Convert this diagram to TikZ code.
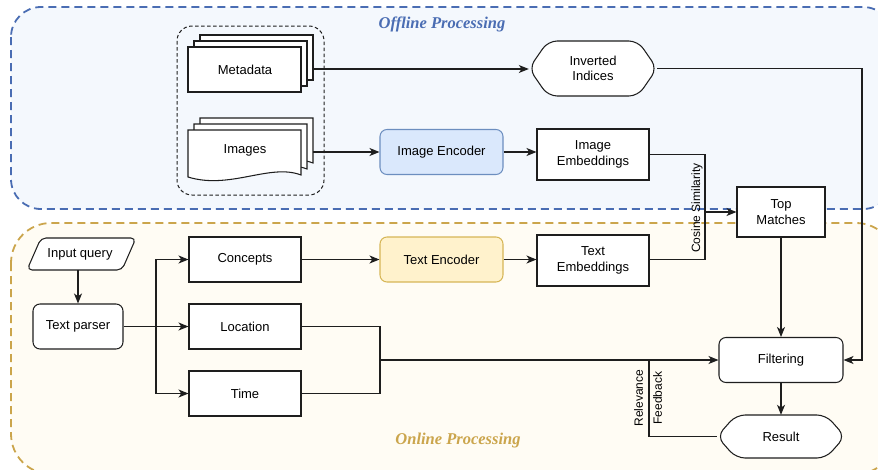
\documentclass[tikz,border=0pt]{standalone}
\usepackage{fontspec}
\setmainfont{Liberation Sans}
\newfontfamily\titlefont{Liberation Serif}
\usetikzlibrary{arrows.meta,calc}

\definecolor{offline}{HTML}{4A6DB3}
\definecolor{offlinefill}{HTML}{F4F8FD}
\definecolor{online}{HTML}{CBA54C}
\definecolor{onlinefill}{HTML}{FFFCF4}
\definecolor{encbluefill}{HTML}{DAE8FC}
\definecolor{encblueline}{HTML}{6C8EBF}
\definecolor{encgoldfill}{HTML}{FFF2CC}
\definecolor{encgoldline}{HTML}{D6B656}
\definecolor{ink}{HTML}{1E1E1E}

\begin{document}
\begin{tikzpicture}[x=1pt,y=-1pt,
  base/.style={font=\fontsize{13}{15.5}\selectfont, align=center, inner sep=0pt},
  plain/.style={base, draw=ink, line width=1.05pt, fill=white, rectangle,
                minimum width=112pt, minimum height=45pt},
  soft/.style={plain, rounded corners=7pt},
  conn/.style={line width=1.05pt, draw=ink},
  arr/.style={conn, -{Stealth[length=10pt,width=8pt,inset=2.8pt]}},
  region/.style={line width=1.8pt, dash pattern=on 8pt off 5pt},
  title/.style={font=\titlefont\bfseries\itshape\fontsize{16.5}{18}\selectfont, inner sep=0pt},
  hexa/.style={conn, fill=white, rounded corners=9pt},
]
\useasboundingbox (0,0) rectangle (878,469);
\clip (0,0) rectangle (878,469);

% processing regions
\draw[region, draw=offline, fill=offlinefill, rounded corners=30pt] (11,7) rectangle (893,209);
\draw[region, draw=online, fill=onlinefill, rounded corners=40pt] (11,223) rectangle (896,474);
\node[title, text=offline] (offtitle) at (442,24) {Offline Processing};
\node[title, text=online] (ontitle) at (458,441) {Online Processing};

% data sources group
\draw[conn, line width=1pt, dash pattern=on 3.5pt off 2.5pt, rounded corners=15pt] (177,26) rectangle (324,195);
\foreach \d in {12,6,0}
  \draw[conn, fill=white] (188+\d,47-\d) rectangle (301+\d,92-\d);
\foreach \d in {12,6,0}
  \draw[conn, fill=white] (188+\d,130-\d) -- (301+\d,130-\d) -- (301+\d,175-\d)
    .. controls (270+\d,163-\d) and (230+\d,190-\d) .. (188+\d,177-\d) -- cycle;
\node[base, minimum width=112pt, minimum height=45pt] (meta) at (245,69.5) {Metadata};
\node[base, minimum width=112pt, minimum height=45pt] (images) at (245,150) {Images};
\coordinate (metaout) at (313,69);
\coordinate (imgout) at (313,152);

% hexagonal stores
\draw[hexa] (529,68.5) -- (548,41) -- (638,41) -- (657,68.5) -- (638,96) -- (548,96) -- cycle;
\node[base, minimum width=128pt, minimum height=55pt] (inv) at (593,68.5) {Inverted\\Indices};
\draw[hexa] (717,436.5) -- (736,415) -- (826,415) -- (845,436.5) -- (826,458) -- (736,458) -- cycle;
\node[base, minimum width=128pt, minimum height=43pt] (result) at (781,436.5) {Result};

% input query
\draw[conn, fill=white, rounded corners=5pt] (41,238) -- (136,238) -- (122,270) -- (27,270) -- cycle;
\node[base, minimum width=100pt, minimum height=32pt] (query) at (80,254) {Input query};

% processing boxes
\node[soft, fill=encbluefill, draw=encblueline, minimum width=123pt] (imgenc) at (441.5,152) {Image Encoder};
\node[plain, minimum height=51pt] (imgemb) at (593,154.5) {Image\\Embeddings};
\node[plain, minimum width=88pt, minimum height=50pt] (top) at (781,212) {Top\\Matches};
\node[soft, minimum width=90pt] (parser) at (78,326.5) {Text parser};
\node[plain] (concepts) at (245,259.5) {Concepts};
\node[soft, fill=encgoldfill, draw=encgoldline, minimum width=123pt] (txtenc) at (441.5,259.5) {Text Encoder};
\node[plain, minimum height=51pt] (txtemb) at (593,260.5) {Text\\Embeddings};
\node[plain] (location) at (245,326.5) {Location};
\node[plain] (time) at (245,393.5) {Time};
\node[soft, minimum width=124pt, minimum height=45pt] (filter) at (781,360) {Filtering};

% offline connectors
\draw[arr] (metaout) -- (inv.west |- metaout);
\draw[arr] (imgout) -- (imgenc.west |- imgout);
\draw[arr] (imgenc.east) -- (imgemb.west |- imgenc.east);
\coordinate (invturn) at (862,68.5);
\draw[arr] (inv.east) -- (invturn) |- (filter.east);

% similarity join
\coordinate (cosj) at (705,212);
\draw[conn] (imgemb.east) -| (cosj);
\draw[conn] (txtemb.east |- concepts.east) -| (cosj);
\draw[arr] (cosj) -- (top.west);
\node[base, rotate=90, font=\fontsize{12}{14}\selectfont] (coslabel) at (697,208) {Cosine Similarity};

% online connectors
\draw[arr] (query.south -| parser.north) -- (parser.north);
\coordinate (split) at (156,326.5);
\draw[arr] (parser.east) -- (location.west);
\draw[arr] (split) |- (concepts.west);
\draw[arr] (split) |- (time.west);
\draw[arr] (concepts.east) -- (txtenc.west);
\draw[arr] (txtenc.east) -- (txtemb.west |- txtenc.east);
\coordinate (merge) at (380,360);
\draw[conn] (location.east) -| (merge);
\draw[conn] (time.east) -| (merge);
\draw[arr] (merge) -- (filter.west);
\draw[arr] (top.south) -- (filter.north);
\draw[arr] (filter.south) -- (result.north);

% relevance feedback loop
\coordinate (fb) at (649,360);
\draw[conn] (result.west) -| (fb);
\node[base, rotate=90, font=\fontsize{12}{19}\selectfont] (fblabel) at (648,398) {Relevance\\Feedback};
\end{tikzpicture}
\end{document}
